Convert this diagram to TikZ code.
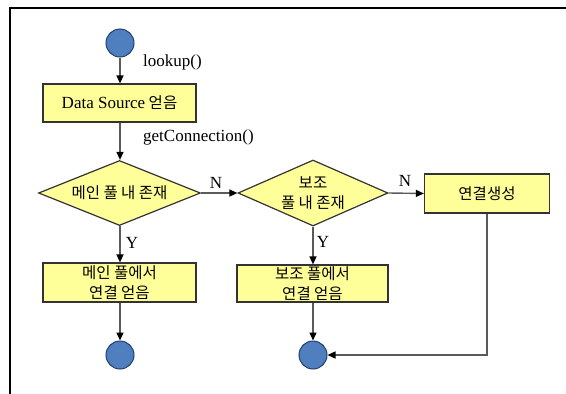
\documentclass[tikz,border=0pt]{standalone}
\usepackage{fontspec}
\setmainfont{Liberation Serif}
\newfontfamily\kr{Noto Sans CJK KR}
\usetikzlibrary{arrows.meta,shapes.geometric}

\definecolor{boxfill}{HTML}{FFFF99}
\definecolor{dotfill}{HTML}{4F7FBE}
\definecolor{dotline}{HTML}{23406A}
\definecolor{wire}{HTML}{5A5A5A}

\tikzset{
  stepbox/.style={draw=black!80, line width=1.2pt, fill=boxfill, inner sep=0pt,
    align=center, font=\kr\fontsize{15.5}{20}\selectfont},
  testbox/.style={diamond, draw=black!80, line width=1.2pt, fill=boxfill, inner sep=0pt,
    align=center, font=\kr\fontsize{15.5}{20}\selectfont},
  dot/.style={circle, draw=dotline, line width=1pt, fill=dotfill, minimum size=28pt, inner sep=0pt},
  flow/.style={draw=wire, line width=1.4pt, -{Triangle[length=8pt,width=7pt,fill=black,color=black]}},
  tag/.style={font=\fontsize{17}{19}\selectfont, inner sep=0pt},
}

\begin{document}
\begin{tikzpicture}[x=1pt,y=-1pt]
\useasboundingbox (0,0) rectangle (566,394);

% frame
\draw[line width=1.3pt] (566,8) -- (10,8) -- (10,394);

% left column
\node[dot] (start) at (120,43) {};
\node[stepbox, minimum width=153pt, minimum height=38pt] (ds) at (119.5,103) {{\rmfamily\fontsize{17}{20}\selectfont Data Source} 얻음};
\node[testbox, aspect=2.49, minimum width=162pt, minimum height=65pt] (main) at (119.5,193) {메인 풀 내 존재};
\node[stepbox, minimum width=153pt, minimum height=39pt] (mainget) at (119.5,282.5) {메인 풀에서\\연결 얻음};
\node[dot] (endA) at (120,355) {};

% middle column
\node[testbox, aspect=2.27, minimum width=150pt, minimum height=66pt] (aux) at (313,193) {보조\\풀 내 존재};
\node[stepbox, minimum width=151pt, minimum height=37pt] (auxget) at (312.5,283.5) {보조 풀에서\\연결 얻음};
\node[dot] (endB) at (313,355) {};

% right column
\node[stepbox, minimum width=125pt, minimum height=39pt] (create) at (487,193.5) {연결생성};
\coordinate (turn) at (create.south |- endB);

% connectors
\draw[flow] (start) -- (start |- ds.north);
\draw[flow] (ds.south -| start) -- (main.north -| start);
\draw[flow] (main.east) -- (aux.west);
\draw[flow] (aux.east) -- (create.west);
\draw[flow] (main.south -| start) -- (mainget.north -| start);
\draw[flow] (mainget.south -| start) -- (endA);
\draw[flow] (aux.south) -- (aux.south |- auxget.north);
\draw[flow] (auxget.south -| aux.south) -- (endB);
\draw[flow] (create.south) -- (turn) -- (endB);

% labels
\node[tag, anchor=west] (lk) at (143,62) {lookup()};
\node[tag, anchor=west] (gc) at (143,137) {getConnection()};
\node[tag] (n1) at (216,183) {N};
\node[tag] (n2) at (405,181) {N};
\node[tag] (y1) at (132,243) {Y};
\node[tag] (y2) at (323,242) {Y};
\end{tikzpicture}
\end{document}
